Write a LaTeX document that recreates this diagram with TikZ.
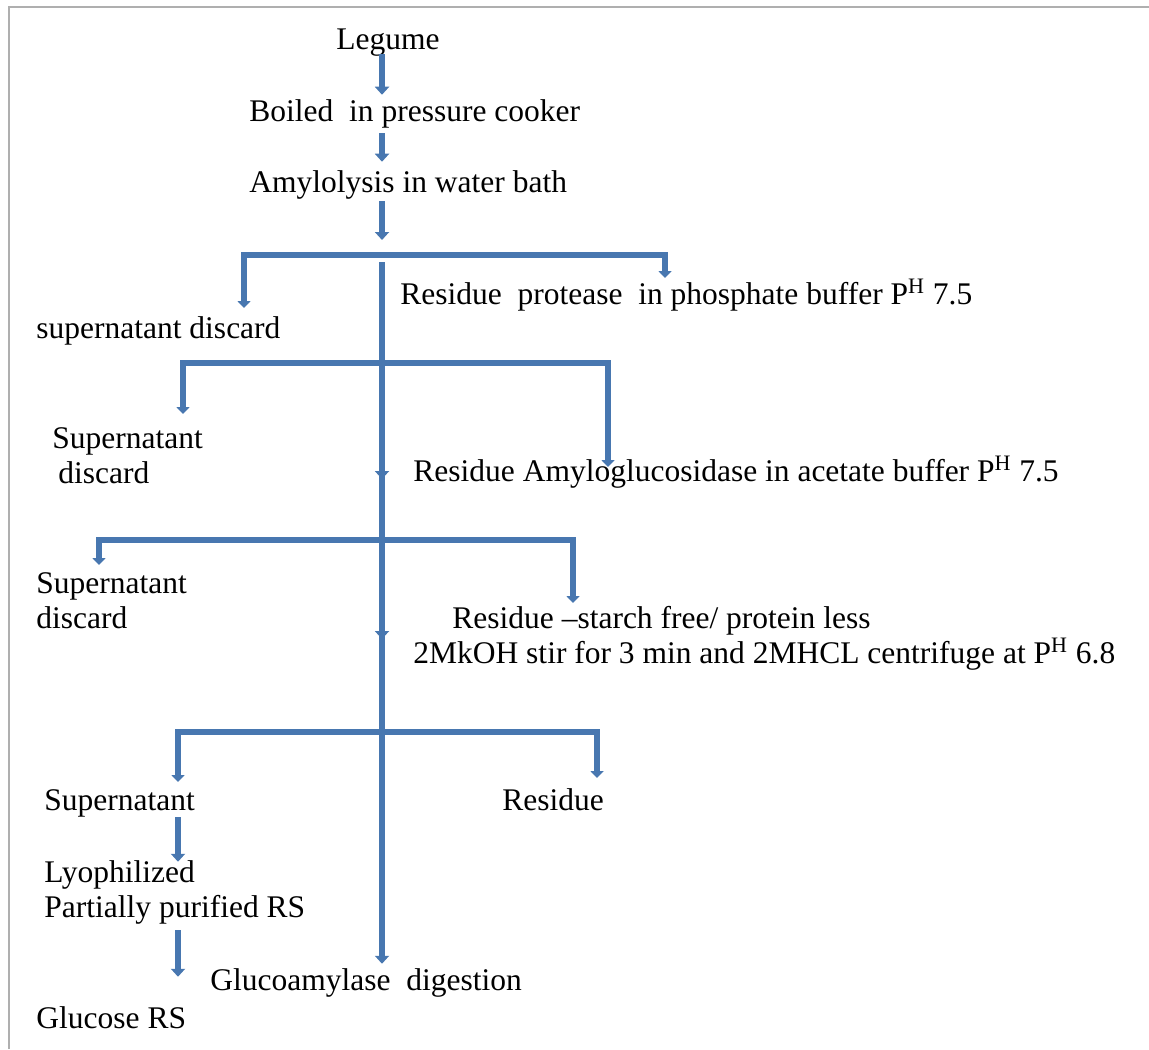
\documentclass[tikz,border=0pt]{standalone}
\usepackage{fontspec}
\setmainfont{Liberation Serif}
\usetikzlibrary{arrows.meta, positioning}
\definecolor{arrblue}{RGB}{72,119,176}
\definecolor{framegray}{RGB}{175,175,175}

\begin{document}
\begin{tikzpicture}[x=0.5pt, y=-0.5pt,
  txt/.style={anchor=base west, inner sep=0pt, align=left,
              font=\fontsize{15.75}{17.5}\selectfont},
  arr/.style={draw=arrblue, line width=3pt, line join=miter,
              -{Triangle[width=7pt, length=4pt]}},
  brk/.style={arr, {Triangle[width=6.5pt, length=3.5pt]}-{Triangle[width=6.5pt, length=3.5pt]}}
]
  \useasboundingbox (0,0) rectangle (1149,1049);
  \draw[framegray, line width=1pt] (9,1049) -- (9,7) -- (1149,7);

  % steps (multi-line nodes sit on their last line)
  \node[txt] (leg)   at (336,49)  {Legume};
  \node[txt] (boil)  at (249,121) {Boiled\ \ in pressure cooker};
  \node[txt] (amyl)  at (249,192) {Amylolysis in water bath};
  \node[txt] (prot)  at (400,304) {Residue\ \ protease\ \ in phosphate buffer P\textsuperscript{H} 7.5};
  \node[txt] (sup1)  at (36,338)  {supernatant discard};
  \node[txt] (sup2)  at (52,483)  {Supernatant\\\hspace{3pt}discard};
  \node[txt] (amg)   at (413,481) {Residue Amyloglucosidase in acetate buffer P\textsuperscript{H} 7.5};
  \node[txt] (sup3)  at (36,628)  {Supernatant\\discard};
  \node[txt] (sfree) at (413,663) {\hspace{19.5pt}Residue –starch free/ protein less\\2MkOH stir for 3 min and 2MHCL centrifuge at P\textsuperscript{H} 6.8};
  \node[txt] (sup4)  at (44,810)  {Supernatant};
  \node[txt] (res4)  at (502,810) {Residue};
  \node[txt] (lyo)   at (44,917)  {Lyophilized\\Partially purified RS};
  \node[txt] (gdig)  at (210,990) {Glucoamylase\ \ digestion};
  \node[txt] (glrs)  at (36,1028) {Glucose RS};

  % spine and junctions
  \coordinate (sp) at (382,0);
  \coordinate (cl) at (178,0);
  \coordinate (j1) at (382,255);
  \coordinate (j2) at (382,363);
  \coordinate (j3) at (382,540);
  \coordinate (j4) at (382,732);
  \coordinate (d1) at (244,308);  \coordinate (r1) at (665,278);
  \coordinate (d2) at (183,414);  \coordinate (r2) at (608,467);
  \coordinate (d3) at (99,565);   \coordinate (r3) at (573,603);
  \coordinate (d4) at (178,782);  \coordinate (r4) at (597,778);
  \coordinate (s0) at (382,262);
  \coordinate (s1) at (382,479);
  \coordinate (s2) at (382,639);

  \draw[arr, shorten <=-1pt, shorten >=2pt] (leg.south -| sp) -- (boil.north -| sp);
  \draw[arr, shorten <=2.5pt, shorten >=4pt] (boil.south -| sp) -- (amyl.north -| sp);
  \draw[arr, shorten <=1pt, shorten >=7.5pt] (amyl.south -| sp) -- (j1);

  \draw[arr] (s0) -- (s1);
  \draw[arr, shorten <=-4pt] (s1) -- (s2);
  \draw[arr, shorten <=-4pt, shorten >=2pt] (s2) -- (gdig.north -| sp);

  \draw[brk] (d1) |- (j1) -| (r1);
  \draw[brk] (d2) |- (j2) -| (r2);
  \draw[brk] (d3) |- (j3) -| (r3);
  \draw[brk] (d4) |- (j4) -| (r4);

  \draw[arr, shorten >=-1pt] (sup4.south -| cl) -- (lyo.north -| cl);
  \draw[arr, shorten <=3pt, shorten >=14.5pt] (lyo.south -| cl) -- (glrs.north -| cl);
\end{tikzpicture}
\end{document}
